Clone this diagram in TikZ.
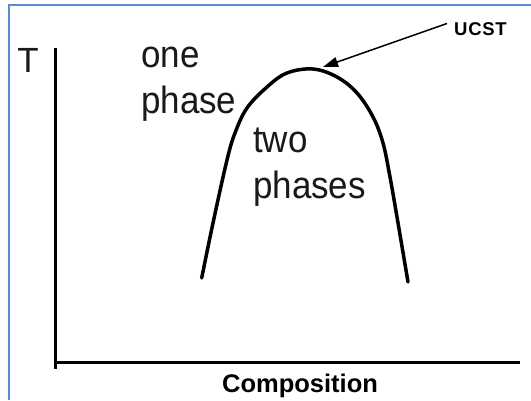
\documentclass[tikz,border=0pt]{standalone}
\usepackage{fontspec}
\setmainfont{Liberation Sans}
\usetikzlibrary{arrows.meta}
\definecolor{frameblue}{RGB}{91,139,208}
\definecolor{inkc}{RGB}{25,25,25}
\tikzset{
  lbl/.style={inner sep=0pt, anchor=base west, xscale=0.92, text=inkc, font=\fontsize{38}{38}\selectfont},
  axis/.style={line width=3pt, line cap=rect},
}
\begin{document}
\begin{tikzpicture}[x=1pt,y=-1pt]
\useasboundingbox (0,0) rectangle (531,400);
\fill[white] (0,0) rectangle (531,400);
\draw[draw=frameblue, line width=2pt] (9,400) -- (9,5) -- (531,5);
% axes
\coordinate (o) at (55,362);
\coordinate (ytop) at (55,49);
\coordinate (xend) at (518,362);
\draw[axis] (ytop) -- (55,367);
\draw[axis] (o) -- (xend);
% labels
\node[inner sep=0pt, anchor=base, text=inkc, font=\fontsize{35}{35}\selectfont] (T) at (28,72) {T};
\node[lbl] (one) at (141,67) {one};
\node[lbl] (phase) at (141,113) {phase};
\node[lbl] (two) at (253,152) {two};
\node[lbl] (phases) at (253,198) {phases};
\node[inner sep=0pt, anchor=base, font=\bfseries\fontsize{25.5}{25.5}\selectfont] (comp) at (300,392) {Composition};
\node[inner sep=0pt, anchor=base west, font=\bfseries\fontsize{18.5}{18.5}\selectfont\addfontfeature{LetterSpace=4}] (ucst) at (454,35) {UCST};
% curve
\draw[line width=3.5pt, line cap=round, line join=round] plot[smooth, tension=0.6] coordinates {
 (201.7,278) (213,223) (227,160) (235,133) (247,108) (267,87) (287,73) (313,69) (337,77) (357,93) (373,117) (383,143) (390,177) (397,217) (408,282)};
\coordinate (top) at (323,67);
\coordinate (astart) at (447,23.5);
\draw[line width=1.5pt, -{Triangle[length=15pt,width=10pt]}] (astart) -- (top);
\end{tikzpicture}
\end{document}
